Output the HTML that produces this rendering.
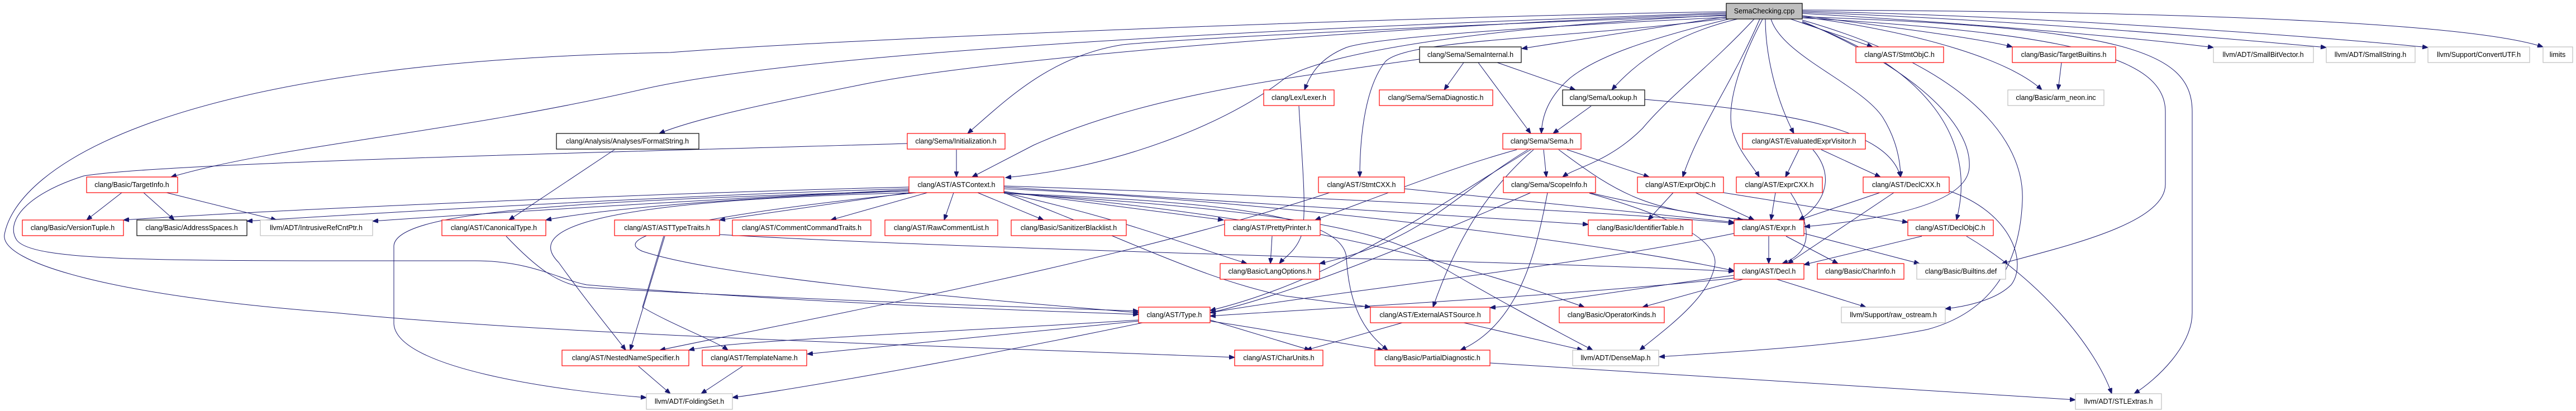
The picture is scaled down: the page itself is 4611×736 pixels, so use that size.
<!DOCTYPE html>
<html><head><meta charset="utf-8"><style>
html,body{margin:0;padding:0;background:#fff;}
svg{display:block;}
text{font-family:"Liberation Sans",sans-serif;font-size:12.5px;fill:#000;text-anchor:middle;}
.r{fill:#fff;stroke:#ff0000;stroke-width:1.2}
.k{fill:#fff;stroke:#000;stroke-width:1.2}
.g{fill:#fff;stroke:#bfbfbf;stroke-width:1.2}
.e path{fill:none;stroke:#191970;stroke-width:1;marker-end:url(#a)}
</style></head><body>
<svg width="4611" height="736" viewBox="0 0 4611 736" xmlns="http://www.w3.org/2000/svg">
<defs><marker id="a" markerUnits="userSpaceOnUse" markerWidth="11" markerHeight="8" refX="10" refY="4" orient="auto"><path d="M0,0 L10,4 L0,8 z" fill="#191970" stroke="#191970"/></marker></defs>
<g class="e">
<path d="M3090,30 L2724,87"/>
<path d="M3205,34 L3352,84"/>
<path d="M3226,28 C3400,50 3550,70 3602,84"/>
<path d="M3226,30 C3450,60 3600,110 3655,161"/>
<path d="M3226,24 C3500,40 3800,65 3962,85"/>
<path d="M3226,22 C3600,35 4000,70 4164,85"/>
<path d="M3226,20 C3700,30 4200,70 4346,85"/>
<path d="M3226,18 C3800,20 4400,35 4552,84"/>
<path d="M3226,32 C3700,60 3876,100 3876,200 L3876,330 C3876,400 3700,440 3583,472"/>
<path d="M3226,30 C3800,50 3924,90 3924,200 L3924,560 C3924,620 3860,680 3820,705"/>
<path d="M3226,36 C3520,120 3625,250 3620,360 C3615,480 3560,560 3450,590 C3300,620 3100,630 2970,639"/>
<path d="M3226,38 C3420,120 3530,220 3525,300 C3520,370 3350,395 3230,406"/>
<path d="M3226,40 C3450,120 3540,250 3502,394"/>
<path d="M3170,34 C3190,100 3330,150 3370,210 C3395,250 3402,290 3402,317"/>
<path d="M3160,34 C3160,100 3180,180 3211,239"/>
<path d="M3155,34 C3120,100 3090,180 3100,230 C3110,270 3140,300 3149,317"/>
<path d="M3150,34 C3100,150 3040,230 3012,317"/>
<path d="M3140,34 C3060,120 2990,170 2940,230 C2880,290 2820,300 2797,317"/>
<path d="M3110,34 C3000,60 2930,110 2885,161"/>
<path d="M3095,34 C2950,70 2860,100 2810,140 C2770,175 2760,210 2759,239"/>
<path d="M3090,33 C2800,70 2520,70 2480,110 C2440,160 2434,260 2434,317"/>
<path d="M3090,31 C2800,45 2470,65 2410,85 C2360,105 2345,135 2335,161"/>
<path d="M3090,28 C2700,40 2100,70 2010,80 C1880,100 1800,180 1732,239"/>
<path d="M3090,27 C2700,45 2380,90 2300,140 C2200,220 2000,300 1800,318"/>
<path d="M3090,25 C2600,40 1800,100 1550,150 C1400,180 1250,210 1180,239"/>
<path d="M3090,23 C2600,40 1500,80 1150,160 C800,240 500,260 306,317"/>
<path d="M3090,21 C2500,30 1500,70 1200,94 C300,110 30,300 8,420 C0,470 200,530 600,560 C1000,600 1700,620 2210,640"/>
<path d="M2620,112 L2585,161"/>
<path d="M2646,112 L2740,239"/>
<path d="M2680,112 L2820,161"/>
<path d="M2541,106 C2300,140 2050,170 1850,260 L1740,317"/>
<path d="M2848,190 L2780,239"/>
<path d="M2944,178 C3200,200 3380,230 3402,317"/>
<path d="M1712,268 L1712,317"/>
<path d="M1624,257 C1200,270 300,290 150,315 C40,350 10,400 30,430 C60,470 300,467 850,467 C950,467 1000,500 1050,510 C1400,540 1800,555 2038,563"/>
<path d="M2325,190 C2330,280 2340,380 2330,420 C2320,450 2300,460 2290,472"/>
<path d="M3690,112 L3684,161"/>
<path d="M1100,268 L911,394"/>
<path d="M218,345 L155,394"/>
<path d="M257,345 L312,394"/>
<path d="M298,345 L495,394"/>
<path d="M1627,335 C1200,345 500,375 221,394"/>
<path d="M1627,338 C1200,350 700,380 442,396"/>
<path d="M1627,340 C1300,355 900,380 667,396"/>
<path d="M1627,342 C1400,350 1100,370 977,394"/>
<path d="M1627,345 L1288,394"/>
<path d="M1660,345 L1487,394"/>
<path d="M1707,345 L1690,394"/>
<path d="M1750,345 L1868,394"/>
<path d="M1797,343 L2190,394"/>
<path d="M1797,345 C2000,390 2100,430 2232,472"/>
<path d="M1640,345 C1300,380 1080,420 1150,450 C1300,500 1800,540 2038,560"/>
<path d="M1640,345 C1000,360 950,420 1000,470 C1050,540 1100,600 1120,627"/>
<path d="M1630,342 C1000,360 710,380 705,440 L705,580 C710,660 1000,700 1157,712"/>
<path d="M1797,338 C2300,360 2900,440 3104,485"/>
<path d="M1797,335 C2300,370 2700,390 2843,402"/>
<path d="M1797,333 C2300,350 2900,380 3104,400"/>
<path d="M1797,344 C2200,380 2500,430 2836,550"/>
<path d="M1797,346 C2200,370 2450,400 2550,460 C2650,520 2780,590 2851,627"/>
<path d="M1797,346 C2150,360 2400,380 2410,460 C2415,560 2450,600 2484,627"/>
<path d="M1797,345 C2000,420 2150,500 2300,530 L2453,550"/>
<path d="M2715,268 C2600,300 2500,340 2354,394"/>
<path d="M2735,268 C2600,350 2550,430 2362,472"/>
<path d="M2740,268 C2600,350 2400,500 2166,556"/>
<path d="M2745,268 C2650,350 2600,450 2565,550"/>
<path d="M2763,268 L2768,317"/>
<path d="M2805,268 L2952,317"/>
<path d="M2790,268 C2900,350 2950,380 3140,394"/>
<path d="M2845,345 C2950,370 3050,385 3120,394"/>
<path d="M2845,346 C3000,390 3070,430 3070,470 C3065,530 2980,590 2935,627"/>
<path d="M2770,345 C2750,450 2720,580 2614,627"/>
<path d="M2740,345 C2500,450 2300,530 2166,560"/>
<path d="M3035,345 L3140,394"/>
<path d="M2995,345 L2950,394"/>
<path d="M3085,345 L3415,398"/>
<path d="M3178,345 L3170,394"/>
<path d="M3205,345 C3240,400 3250,450 3190,472"/>
<path d="M3220,268 L3196,317"/>
<path d="M3260,268 L3366,317"/>
<path d="M3245,268 C3290,320 3260,370 3220,394"/>
<path d="M3365,345 L3220,394"/>
<path d="M3390,345 L3200,472"/>
<path d="M3489,342 C3600,380 3630,470 3600,510 C3570,540 3510,550 3482,553"/>
<path d="M2514,338 L3104,398"/>
<path d="M2380,345 C2000,470 1500,560 1181,627"/>
<path d="M3166,423 L3166,472"/>
<path d="M3197,423 L3290,472"/>
<path d="M3229,418 L3436,472"/>
<path d="M3104,418 C2800,480 2400,520 2166,560"/>
<path d="M3440,423 L3229,474"/>
<path d="M3520,423 C3650,500 3750,620 3780,705"/>
<path d="M3104,493 C2900,520 2800,540 2667,551"/>
<path d="M3120,500 L2940,550"/>
<path d="M3180,500 L3340,550"/>
<path d="M3104,498 C2800,530 2400,550 2166,566"/>
<path d="M1288,420 C1800,450 2800,470 3104,486"/>
<path d="M1190,423 L1128,627"/>
<path d="M1188,423 L1150,550 C1200,580 1280,610 1303,627"/>
<path d="M2277,423 L2274,472"/>
<path d="M906,423 C960,480 1000,510 1050,515 C1500,540 1900,552 2038,557"/>
<path d="M2038,573 C1700,595 1300,610 1233,627"/>
<path d="M2038,575 C1800,600 1600,620 1445,634"/>
<path d="M2045,578 C1700,650 1400,700 1311,712"/>
<path d="M2166,573 L2345,627"/>
<path d="M2166,575 C2300,595 2400,615 2476,627"/>
<path d="M2510,578 L2338,627"/>
<path d="M2620,578 L2833,627"/>
<path d="M1143,656 L1200,705"/>
<path d="M1329,656 L1255,705"/>
<path d="M2667,650 L3715,716"/>
</g>
<g>
<rect x="3090" y="6" width="136" height="28" fill="#bfbfbf" stroke="#000" stroke-width="1.2"/><text x="3158" y="24">SemaChecking.cpp</text>
<rect class="k" x="2541" y="84" width="182" height="28"/><text x="2632" y="102">clang/Sema/SemaInternal.h</text>
<rect class="r" x="3322" y="84" width="157" height="28"/><text x="3400" y="102">clang/AST/StmtObjC.h</text>
<rect class="r" x="3602" y="84" width="185" height="28"/><text x="3694" y="102">clang/Basic/TargetBuiltins.h</text>
<rect class="g" x="3962" y="84" width="179" height="28"/><text x="4051" y="102">llvm/ADT/SmallBitVector.h</text>
<rect class="g" x="4164" y="84" width="159" height="28"/><text x="4243" y="102">llvm/ADT/SmallString.h</text>
<rect class="g" x="4346" y="84" width="182" height="28"/><text x="4437" y="102">llvm/Support/ConvertUTF.h</text>
<rect class="g" x="4552" y="84" width="53" height="28"/><text x="4578" y="102">limits</text>
<rect class="r" x="2262" y="161" width="126" height="28"/><text x="2325" y="179">clang/Lex/Lexer.h</text>
<rect class="r" x="2469" y="161" width="203" height="28"/><text x="2570" y="179">clang/Sema/SemaDiagnostic.h</text>
<rect class="k" x="2797" y="161" width="147" height="28"/><text x="2870" y="179">clang/Sema/Lookup.h</text>
<rect class="g" x="3594" y="161" width="172" height="28"/><text x="3680" y="179">clang/Basic/arm_neon.inc</text>
<rect class="k" x="996" y="239" width="255" height="28"/><text x="1123" y="257">clang/Analysis/Analyses/FormatString.h</text>
<rect class="r" x="1624" y="239" width="175" height="28"/><text x="1711" y="257">clang/Sema/Initialization.h</text>
<rect class="r" x="2690" y="239" width="140" height="28"/><text x="2760" y="257">clang/Sema/Sema.h</text>
<rect class="r" x="3119" y="239" width="220" height="28"/><text x="3229" y="257">clang/AST/EvaluatedExprVisitor.h</text>
<rect class="r" x="155" y="317" width="163" height="28"/><text x="236" y="335">clang/Basic/TargetInfo.h</text>
<rect class="r" x="1627" y="317" width="170" height="28"/><text x="1712" y="335">clang/AST/ASTContext.h</text>
<rect class="r" x="2360" y="317" width="154" height="28"/><text x="2437" y="335">clang/AST/StmtCXX.h</text>
<rect class="r" x="2691" y="317" width="165" height="28"/><text x="2773" y="335">clang/Sema/ScopeInfo.h</text>
<rect class="r" x="2931" y="317" width="154" height="28"/><text x="3008" y="335">clang/AST/ExprObjC.h</text>
<rect class="r" x="3108" y="317" width="154" height="28"/><text x="3185" y="335">clang/AST/ExprCXX.h</text>
<rect class="r" x="3335" y="317" width="154" height="28"/><text x="3412" y="335">clang/AST/DeclCXX.h</text>
<rect class="r" x="40" y="394" width="181" height="28"/><text x="130" y="412">clang/Basic/VersionTuple.h</text>
<rect class="k" x="245" y="394" width="197" height="28"/><text x="343" y="412">clang/Basic/AddressSpaces.h</text>
<rect class="g" x="466" y="394" width="201" height="28"/><text x="566" y="412">llvm/ADT/IntrusiveRefCntPtr.h</text>
<rect class="r" x="791" y="394" width="186" height="28"/><text x="884" y="412">clang/AST/CanonicalType.h</text>
<rect class="r" x="1100" y="394" width="188" height="28"/><text x="1194" y="412">clang/AST/ASTTypeTraits.h</text>
<rect class="r" x="1311" y="394" width="248" height="28"/><text x="1435" y="412">clang/AST/CommentCommandTraits.h</text>
<rect class="r" x="1584" y="394" width="202" height="28"/><text x="1685" y="412">clang/AST/RawCommentList.h</text>
<rect class="r" x="1810" y="394" width="206" height="28"/><text x="1913" y="412">clang/Basic/SanitizerBlacklist.h</text>
<rect class="r" x="2192" y="394" width="171" height="28"/><text x="2277" y="412">clang/AST/PrettyPrinter.h</text>
<rect class="r" x="2843" y="394" width="186" height="28"/><text x="2936" y="412">clang/Basic/IdentifierTable.h</text>
<rect class="r" x="3104" y="394" width="125" height="28"/><text x="3166" y="412">clang/AST/Expr.h</text>
<rect class="r" x="3415" y="394" width="153" height="28"/><text x="3491" y="412">clang/AST/DeclObjC.h</text>
<rect class="r" x="2184" y="472" width="178" height="28"/><text x="2273" y="490">clang/Basic/LangOptions.h</text>
<rect class="r" x="3104" y="472" width="125" height="28"/><text x="3166" y="490">clang/AST/Decl.h</text>
<rect class="r" x="3253" y="472" width="155" height="28"/><text x="3330" y="490">clang/Basic/CharInfo.h</text>
<rect class="g" x="3431" y="472" width="159" height="28"/><text x="3510" y="490">clang/Basic/Builtins.def</text>
<rect class="r" x="2038" y="550" width="128" height="28"/><text x="2102" y="568">clang/AST/Type.h</text>
<rect class="r" x="2453" y="550" width="214" height="28"/><text x="2560" y="568">clang/AST/ExternalASTSource.h</text>
<rect class="r" x="2791" y="550" width="188" height="28"/><text x="2885" y="568">clang/Basic/OperatorKinds.h</text>
<rect class="g" x="3296" y="550" width="186" height="28"/><text x="3389" y="568">llvm/Support/raw_ostream.h</text>
<rect class="r" x="1006" y="627" width="227" height="28"/><text x="1120" y="645">clang/AST/NestedNameSpecifier.h</text>
<rect class="r" x="1257" y="627" width="187" height="28"/><text x="1350" y="645">clang/AST/TemplateName.h</text>
<rect class="r" x="2210" y="627" width="158" height="28"/><text x="2289" y="645">clang/AST/CharUnits.h</text>
<rect class="r" x="2461" y="627" width="206" height="28"/><text x="2564" y="645">clang/Basic/PartialDiagnostic.h</text>
<rect class="g" x="2815" y="627" width="154" height="28"/><text x="2892" y="645">llvm/ADT/DenseMap.h</text>
<rect class="g" x="1157" y="705" width="154" height="28"/><text x="1234" y="723">llvm/ADT/FoldingSet.h</text>
<rect class="g" x="3715" y="705" width="154" height="28"/><text x="3792" y="723">llvm/ADT/STLExtras.h</text>
</g>
</svg>
</body></html>
